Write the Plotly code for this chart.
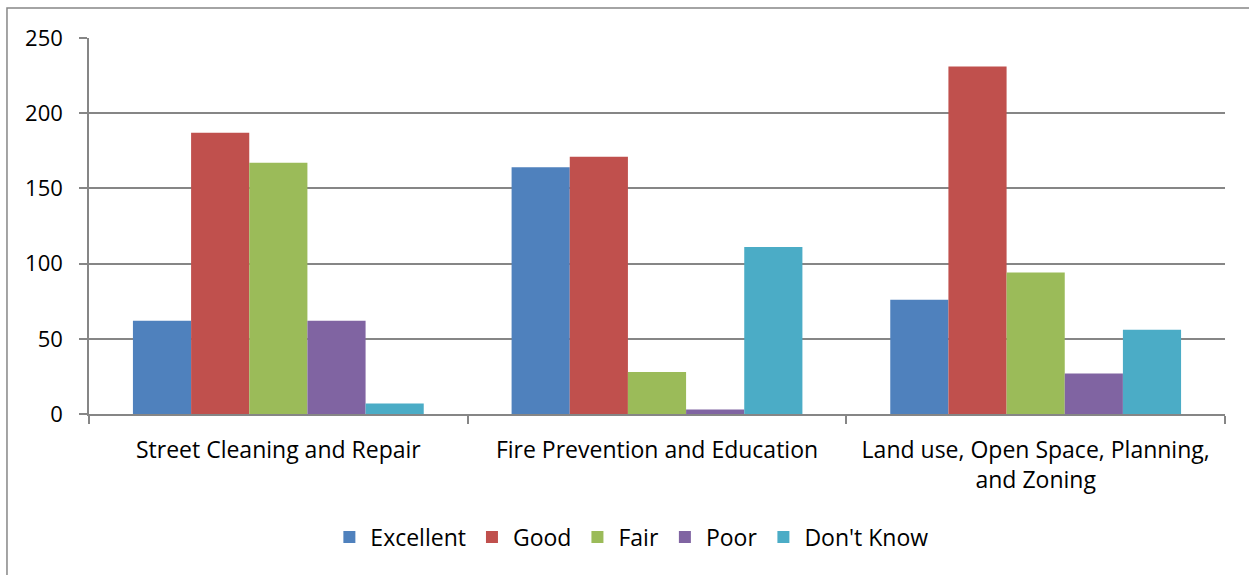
import plotly.graph_objects as go

categories = ["Street Cleaning and Repair", "Fire Prevention and Education",
              "Land use, Open Space, Planning,<br>and Zoning"]
series_names = ["Excellent", "Good", "Fair", "Poor", "Don't Know"]
excellent = [62, 164, 76]
good = [187, 171, 231]
fair = [167, 28, 94]
poor = [62, 3, 27]
dont_know = [7, 111, 56]
y_ticks = [0, 50, 100, 150, 200, 250]

colors = ["#4F81BD", "#C0504D", "#9BBB59", "#8064A2", "#4BACC6"]
values = [excellent, good, fair, poor, dont_know]

fig = go.Figure()
for name, vals, c in zip(series_names, values, colors):
    fig.add_trace(go.Bar(x=categories, y=vals, name=name, marker_color=c,
                         marker_line_width=0))

FONT = "Open Sans"
fig.update_layout(
    width=1249, height=575,
    barmode="group", bargap=0.232, bargroupgap=0,
    paper_bgcolor="white", plot_bgcolor="white",
    margin=dict(l=89, r=24, t=38, b=161),
    font=dict(family=FONT, size=22, color="black"),
    showlegend=True,
    legend=dict(orientation="h", x=0.477, xanchor="center", y=-0.327, yanchor="middle",
                font=dict(size=23), traceorder="normal", itemwidth=32),
    xaxis=dict(type="category", showgrid=False, showline=True, linecolor="#868686",
               linewidth=1.5, ticks="outside", tickson="boundaries", ticklen=8,
               tickcolor="#868686", tickwidth=1.5, tickfont=dict(size=23),
               ticklabelstandoff=15, automargin=False),
    yaxis=dict(range=[0, 250], tickvals=y_ticks, showgrid=True, gridcolor="#868686",
               gridwidth=1.5, showline=True, linecolor="#868686", linewidth=1.5,
               ticks="outside", ticklen=8, tickcolor="#868686", tickwidth=1.5,
               tickfont=dict(size=22), ticklabelstandoff=12, zeroline=False,
               automargin=False),
    shapes=[dict(type="rect", xref="paper", yref="paper", x0=-0.0722, y0=-0.6,
                 x1=1.2, y1=1.0798, line=dict(color="#878787", width=1.5),
                 fillcolor="rgba(0,0,0,0)", layer="below")],
)

fig.write_html("out.html", config={"displayModeBar": False},
               post_script="document.body.style.margin='0';document.body.style.padding='0';")
